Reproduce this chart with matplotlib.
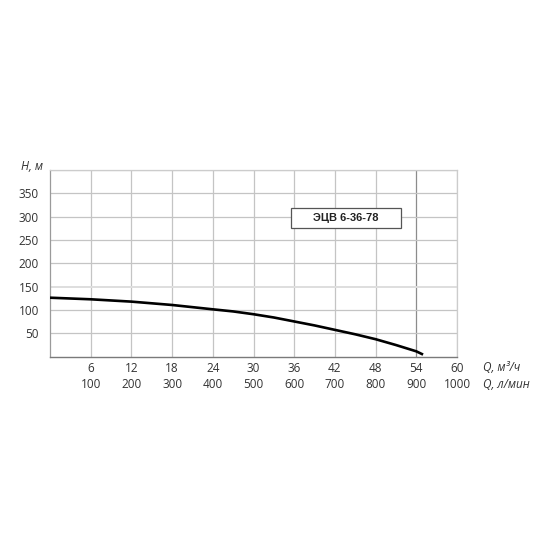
import matplotlib
matplotlib.use("Agg")
import matplotlib.pyplot as plt
import matplotlib.transforms as mtransforms
from matplotlib.patches import Rectangle

# Data
q_m3h = [0, 6, 12, 18, 24, 27, 30, 33, 36, 39, 42, 45, 48, 51, 54, 55]
head_m = [126.4, 123, 118, 110.8, 101.5, 97, 91, 84, 75.5, 67, 57.5, 48, 37.5, 25, 11.5, 4.5]

x_ticks = [6, 12, 18, 24, 30, 36, 42, 48, 54, 60]
x_ticks_lmin = [100, 200, 300, 400, 500, 600, 700, 800, 900, 1000]
y_ticks = [50, 100, 150, 200, 250, 300, 350]
title_label = "ЭЦВ 6-36-78"

plt.rcParams['font.family'] = ['Open Sans', 'DejaVu Sans']

fig = plt.figure(figsize=(5.5, 5.5), dpi=100)
ax = fig.add_axes([50/550, 1-356.7/550, 407/550, 186.7/550])
ax.set_xlim(0, 60)
ax.set_ylim(0, 400)

grid_c = '#c4c4c4'
for xv in x_ticks:
    ax.axvline(xv, color='#8c8c8c' if xv == 54 else grid_c, lw=0.9, zorder=1)
for yv in y_ticks + [400]:
    if yv == 150:
        ax.axhline(yv, color='#dedede', lw=1.4, zorder=1)
    else:
        ax.axhline(yv, color=grid_c, lw=0.9, zorder=1)

for s in ['top', 'right']:
    ax.spines[s].set_color('#cccccc')
    ax.spines[s].set_linewidth(0.9)
ax.spines['left'].set_color('#9a9a9a')
ax.spines['bottom'].set_color('#7a7a7a')
ax.spines['left'].set_linewidth(0.9)
ax.spines['bottom'].set_linewidth(1.0)

ax.plot(q_m3h, head_m, color='black', lw=1.9, zorder=3, solid_capstyle='butt',
        solid_joinstyle='round')

ax.set_xticks(x_ticks)
ax.set_xticklabels([str(v) for v in x_ticks])
ax.set_yticks(y_ticks)
ax.set_yticklabels([str(v) for v in y_ticks])
ax.tick_params(axis='both', length=0, labelsize=8.5, colors='#333333')
ax.tick_params(axis='x', pad=4)
ax.tick_params(axis='y', pad=8)

trans = mtransforms.blended_transform_factory(ax.transData, ax.transAxes)
for xv, lv in zip(x_ticks, x_ticks_lmin):
    ax.text(xv, -27.5/186.7, str(lv), transform=trans, ha='center', va='center',
            fontsize=8.5, color='#333333')

ax.text(63.8, -11/186.7, "Q, м³/ч", transform=trans, ha='left', va='center',
        fontsize=8.5, style='italic', color='#333333')
ax.text(63.8, -27.5/186.7, "Q, л/мин", transform=trans, ha='left', va='center',
        fontsize=8.5, style='italic', color='#333333')
ax.text(-1.0, 1.02, "H, м", transform=trans, ha='right', va='center',
        fontsize=8.5, style='italic', color='#333333')

ax.add_patch(Rectangle((35.5, 275), 16.2, 43, fc='white', ec='#555555', lw=0.9, zorder=5))
ax.text(43.6, 296.5, title_label, ha='center', va='center', fontsize=8,
        fontweight='bold', family=['Liberation Sans', 'DejaVu Sans'], color='#222222',
        zorder=6)

fig.savefig('out.png', dpi=100)
